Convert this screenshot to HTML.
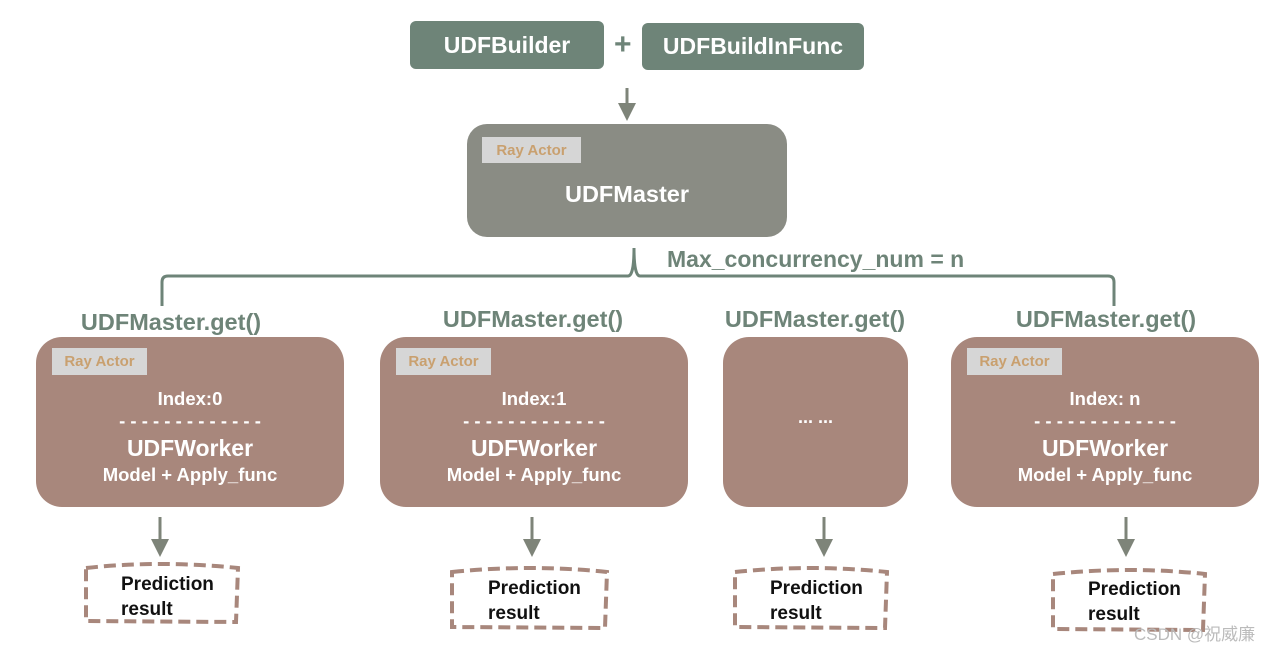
<!DOCTYPE html>
<html><head><meta charset="utf-8"><style>
body{margin:0;width:1280px;height:649px;background:#fff;position:relative;overflow:hidden;font-family:"Liberation Sans","Noto Sans CJK SC",sans-serif}
.a{position:absolute}
.g{background:#6e8478;color:#fff;border-radius:6px;font-weight:bold;font-size:23px;display:flex;align-items:center;justify-content:center}
.w{position:absolute;background:#a8877c;border-radius:26px;color:#fff;font-weight:bold;text-align:center}
.ra{position:absolute;background:#d6d6d6;color:#c9a06f;font-size:15px;font-weight:bold;display:flex;align-items:center;justify-content:center}
.lbl{position:absolute;color:#6e8478;font-size:23.5px;font-weight:bold;white-space:nowrap;transform:translateX(-50%)}
.pr{position:absolute;font-size:19px;font-weight:bold;color:#111;line-height:25px}
</style></head><body>
<div class="a g" style="left:410px;top:21px;width:194px;height:48px">UDFBuilder</div>
<div class="a" style="left:614px;top:28px;font-size:30px;color:#6e8478;font-weight:bold">+</div>
<div class="a g" style="left:642px;top:23px;width:222px;height:47px">UDFBuildInFunc</div>
<div class="a" style="left:467px;top:124px;width:320px;height:113px;background:#8a8c84;border-radius:20px"></div>
<div class="ra" style="left:482px;top:137px;width:99px;height:26px">Ray Actor</div>
<div class="a" style="left:467px;top:181px;width:320px;text-align:center;color:#fff;font-weight:bold;font-size:23.5px">UDFMaster</div>
<div class="a" style="left:667px;top:246px;color:#6e8478;font-size:23px;font-weight:bold">Max_concurrency_num = n</div>

<svg class="a" style="left:0;top:0" width="1280" height="649">
<defs><marker id="ar" markerWidth="6" markerHeight="6" refX="3" refY="3" orient="auto" markerUnits="strokeWidth"><path d="M0,0L6,3L0,6z" fill="#7e8479"/></marker></defs>
<g stroke="#7e8479" stroke-width="3" fill="none">
<line x1="627" y1="88" x2="627" y2="112" marker-end="url(#ar)"/>
<line x1="160" y1="517" x2="160" y2="548" marker-end="url(#ar)"/>
<line x1="532" y1="517" x2="532" y2="548" marker-end="url(#ar)"/>
<line x1="824" y1="517" x2="824" y2="548" marker-end="url(#ar)"/>
<line x1="1126" y1="517" x2="1126" y2="548" marker-end="url(#ar)"/>
</g>
<path d="M162,306 L162,282 Q162,276 168,276 L628,276 Q634,276 634,248 Q634,276 640,276 L1108,276 Q1114,276 1114,282 L1114,306" stroke="#6e8478" stroke-width="3" fill="none"/>
<g stroke="#a8877c" stroke-width="4" stroke-dasharray="12,6" fill="none">
<path d="M86,568 Q160,560 238,568 L236,622 L86,621 Z"/>
<path d="M452,572 Q530,564 607,572 L605,628 L452,627 Z"/>
<path d="M735,572 Q810,564 887,572 L885,628 L735,627 Z"/>
<path d="M1053,574 Q1130,566 1205,574 L1203,630 L1053,629 Z"/>
</g>
</svg>

<div class="lbl" style="left:171px;top:309px">UDFMaster.get()</div>
<div class="lbl" style="left:533px;top:306px">UDFMaster.get()</div>
<div class="lbl" style="left:815px;top:306px">UDFMaster.get()</div>
<div class="lbl" style="left:1106px;top:306px">UDFMaster.get()</div>

<div class="w" style="left:36px;top:337px;width:308px;height:170px"></div>
<div class="w" style="left:380px;top:337px;width:308px;height:170px"></div>
<div class="w" style="left:723px;top:337px;width:185px;height:170px"></div>
<div class="w" style="left:951px;top:337px;width:308px;height:170px"></div>
<div class="ra" style="left:52px;top:348px;width:95px;height:27px">Ray Actor</div>
<div class="ra" style="left:396px;top:348px;width:95px;height:27px">Ray Actor</div>
<div class="ra" style="left:967px;top:348px;width:95px;height:27px">Ray Actor</div>

<div class="w" style="left:36px;top:388px;width:308px;background:none;font-size:18.5px;line-height:22px">Index:0<br><span style="letter-spacing:0px">- - - - - - - - - - - - -</span><br><span style="font-size:23px;line-height:32px">UDFWorker</span><br>Model + Apply_func</div>
<div class="w" style="left:380px;top:388px;width:308px;background:none;font-size:18.5px;line-height:22px">Index:1<br><span style="letter-spacing:0px">- - - - - - - - - - - - -</span><br><span style="font-size:23px;line-height:32px">UDFWorker</span><br>Model + Apply_func</div>
<div class="w" style="left:723px;top:407px;width:185px;background:none;font-size:18px">... ...</div>
<div class="w" style="left:951px;top:388px;width:308px;background:none;font-size:18.5px;line-height:22px">Index: n<br><span style="letter-spacing:0px">- - - - - - - - - - - - -</span><br><span style="font-size:23px;line-height:32px">UDFWorker</span><br>Model + Apply_func</div>

<div class="pr" style="left:121px;top:572px">Prediction<br>result</div>
<div class="pr" style="left:488px;top:576px">Prediction<br>result</div>
<div class="pr" style="left:770px;top:576px">Prediction<br>result</div>
<div class="pr" style="left:1088px;top:577px">Prediction<br>result</div>
<div class="a" style="left:1134px;top:620px;font-size:17px;color:#bbb">CSDN @祝威廉</div>
</body></html>
